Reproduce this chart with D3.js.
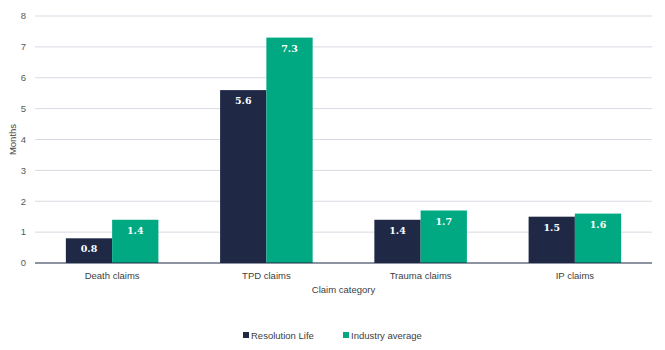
<!DOCTYPE html>
<html><head><meta charset="utf-8">
<script src="https://cdn.jsdelivr.net/npm/d3@7"></script>
<style>body{margin:0;background:#fff}svg{display:block;font-family:"Liberation Sans",Arial,sans-serif}</style>
</head><body>
<script>
const categories = ["Death claims","TPD claims","Trauma claims","IP claims"];
const seriesNames = ["Resolution Life","Industry average"];
const resolutionLife = [0.8,5.6,1.4,1.5];
const industryAverage = [1.4,7.3,1.7,1.6];
const yTicks = [0,1,2,3,4,5,6,7,8];
const colors = ["#1f2945","#00a982"];

const W=665,H=350;
const m={left:35,right:13,top:16,bottom:87};
const svg=d3.select("body").append("svg").attr("width",W).attr("height",H);
const x=d3.scaleBand().domain(categories).range([m.left,W-m.right]).paddingInner(0.4).paddingOuter(0.2);
const x1=d3.scaleBand().domain(seriesNames).range([0,x.bandwidth()]);
const y=d3.scaleLinear().domain([0,8]).range([H-m.bottom,m.top]);

svg.append("g").selectAll("line").data(yTicks.filter(d=>d>0)).join("line")
 .attr("x1",m.left).attr("x2",W-m.right).attr("y1",d=>y(d)).attr("y2",d=>y(d))
 .attr("stroke","#d9dbe4").attr("stroke-width",1);
svg.append("g").selectAll("text").data(yTicks).join("text")
 .attr("x",26).attr("y",d=>y(d)).attr("dy","0.35em").attr("text-anchor","end")
 .attr("font-size",9.5).attr("fill","#595959").text(d=>d);

const data=categories.map((c,i)=>({c,vals:[resolutionLife[i],industryAverage[i]]}));
const g=svg.append("g").selectAll("g").data(data).join("g").attr("transform",d=>`translate(${x(d.c)},0)`);
g.selectAll("rect").data(d=>d.vals.map((v,j)=>({v,s:seriesNames[j],j}))).join("rect")
 .attr("x",d=>x1(d.s)).attr("width",x1.bandwidth()).attr("y",d=>y(d.v)).attr("height",d=>y(0)-y(d.v))
 .attr("fill",d=>colors[d.j]);
g.selectAll("text").data(d=>d.vals.map((v,j)=>({v,s:seriesNames[j],j}))).join("text")
 .attr("x",d=>x1(d.s)+x1.bandwidth()/2).attr("y",d=>y(d.v)+14).attr("text-anchor","middle")
 .attr("font-family","'DejaVu Serif','Liberation Serif',serif").attr("font-weight","bold")
 .attr("font-size",9.5).attr("fill","#fff").text(d=>d.v.toFixed(1));

svg.append("line").attr("x1",m.left).attr("x2",W-m.right).attr("y1",y(0)).attr("y2",y(0))
 .attr("stroke","#1f2945").attr("stroke-width",1.2);

svg.append("g").selectAll("text").data(categories).join("text")
 .attr("x",d=>x(d)+x.bandwidth()/2).attr("y",279).attr("text-anchor","middle")
 .attr("font-size",9.5).attr("fill","#404040").text(d=>d);
svg.append("text").attr("x",(m.left+W-m.right)/2).attr("y",293).attr("text-anchor","middle")
 .attr("font-size",9.5).attr("fill","#404040").text("Claim category");
svg.append("text").attr("transform",`translate(16,${(y(0)+y(8))/2}) rotate(-90)`).attr("text-anchor","middle")
 .attr("font-size",9.5).attr("fill","#404040").text("Months");

const legX=[243,343];
const lg=svg.append("g").selectAll("g").data(seriesNames).join("g").attr("transform",(d,i)=>`translate(${legX[i]},336)`);
lg.append("rect").attr("x",0).attr("y",-4).attr("width",6).attr("height",6).attr("fill",(d,i)=>colors[i]);
lg.append("text").attr("x",8).attr("y",0).attr("dy","0.35em").attr("font-size",9.5).attr("fill","#404040").text(d=>d);
</script>
</body></html>
